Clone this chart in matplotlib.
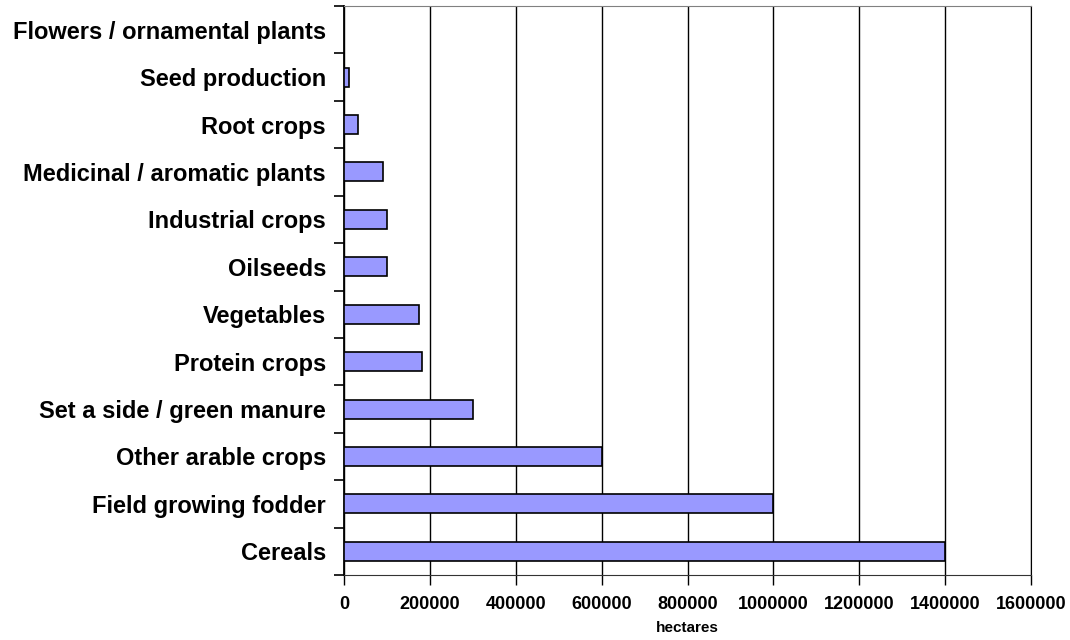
import numpy as np
import matplotlib
matplotlib.use("Agg")
import matplotlib.pyplot as plt

plt.rcParams['font.family'] = ['Liberation Sans', 'DejaVu Sans']

# crop areas, bottom to top as drawn
crops = ["Cereals", "Field growing fodder", "Other arable crops",
         "Set a side / green manure", "Protein crops", "Vegetables",
         "Oilseeds", "Industrial crops", "Medicinal / aromatic plants",
         "Root crops", "Seed production", "Flowers / ornamental plants"]
hectares = [1400000, 1000000, 600000, 300000, 182000, 175000,
            100000, 101000, 91000, 32000, 12000, 500]

fig = plt.figure(figsize=(10.7, 6.4), dpi=100)
ax = fig.add_axes([344/1070, 1 - 575/640, 687/1070, 569/640])

y = np.arange(len(crops))
ax.barh(y, hectares, height=0.4, color="#9999ff", edgecolor="black",
        linewidth=1.2, zorder=3)

ax.set_xlim(0, 1600000)
ax.set_ylim(-0.5, len(crops) - 0.5)
ax.set_xticks(np.arange(0, 1600001, 200000))
ax.set_xticklabels([str(v) for v in range(0, 1600001, 200000)],
                   fontsize=13, fontweight="bold")
ax.grid(axis="x", color="black", linewidth=1, zorder=0)

ax.set_yticks(y)
ax.set_yticklabels(crops, fontsize=17, fontweight="bold")
ax.tick_params(axis="y", length=0, pad=13)
ax.set_yticks(np.arange(-0.5, len(crops), 1), minor=True)
ax.tick_params(axis="y", which="minor", length=7, width=1.2, color="black")
ax.tick_params(axis="x", length=7, width=1, pad=8)

ax.spines["top"].set_color("#808080")
ax.spines["right"].set_color("black")
ax.spines["left"].set_linewidth(1.3)
ax.spines["bottom"].set_color("#333333")

ax.set_xlabel("hectares", fontsize=11, fontweight="bold", labelpad=6)

fig.savefig("out.png", dpi=100)
